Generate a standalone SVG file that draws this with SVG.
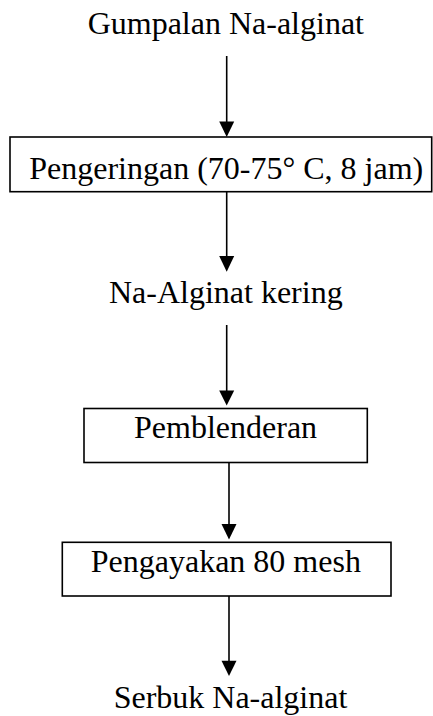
<svg xmlns="http://www.w3.org/2000/svg" width="433" height="716" viewBox="0 0 433 716">
<defs>
<style>
text{font-family:"Liberation Serif","Times New Roman",serif;font-size:32px;fill:#000;text-anchor:middle}
.box{fill:#fff;stroke:#000;stroke-width:1.6}
.con{stroke:#000;stroke-width:1.6;fill:none}
.head{fill:#000;stroke:none}
</style>
</defs>
<rect width="433" height="716" fill="#fff"/>
<g id="connectors">
<line class="con" x1="226.7" y1="56" x2="226.7" y2="124"/>
<polygon class="head" points="219.2,121.5 234.2,121.5 226.7,137"/>
<line class="con" x1="226.7" y1="191.7" x2="226.7" y2="258"/>
<polygon class="head" points="219.2,256 234.2,256 226.7,271.7"/>
<line class="con" x1="226.7" y1="325" x2="226.7" y2="393"/>
<polygon class="head" points="219.2,390.5 234.2,390.5 226.7,405.5"/>
<line class="con" x1="229" y1="459.3" x2="229" y2="526"/>
<polygon class="head" points="221.5,524 236.5,524 229,539.5"/>
<line class="con" x1="229" y1="596" x2="229" y2="663"/>
<polygon class="head" points="221.5,660.7 236.5,660.7 229,676"/>
</g>
<g id="n1"><text x="225.8" y="34">Gumpalan Na-alginat</text></g>
<g id="n2"><rect class="box" x="10" y="137" width="421.7" height="54.7"/><text x="226.2" y="178.5">Pengeringan (70-75° C, 8 jam)</text></g>
<g id="n3"><text x="225.8" y="302.5">Na-Alginat kering</text></g>
<g id="n4"><rect class="box" x="84" y="408.5" width="283.3" height="54"/><text x="225.6" y="438.3">Pemblenderan</text></g>
<g id="n5"><rect class="box" x="62.3" y="542.3" width="328.7" height="53.7"/><text x="225.8" y="571.7">Pengayakan 80 mesh</text></g>
<g id="n6"><text x="230.5" y="708.3">Serbuk Na-alginat</text></g>
</svg>
